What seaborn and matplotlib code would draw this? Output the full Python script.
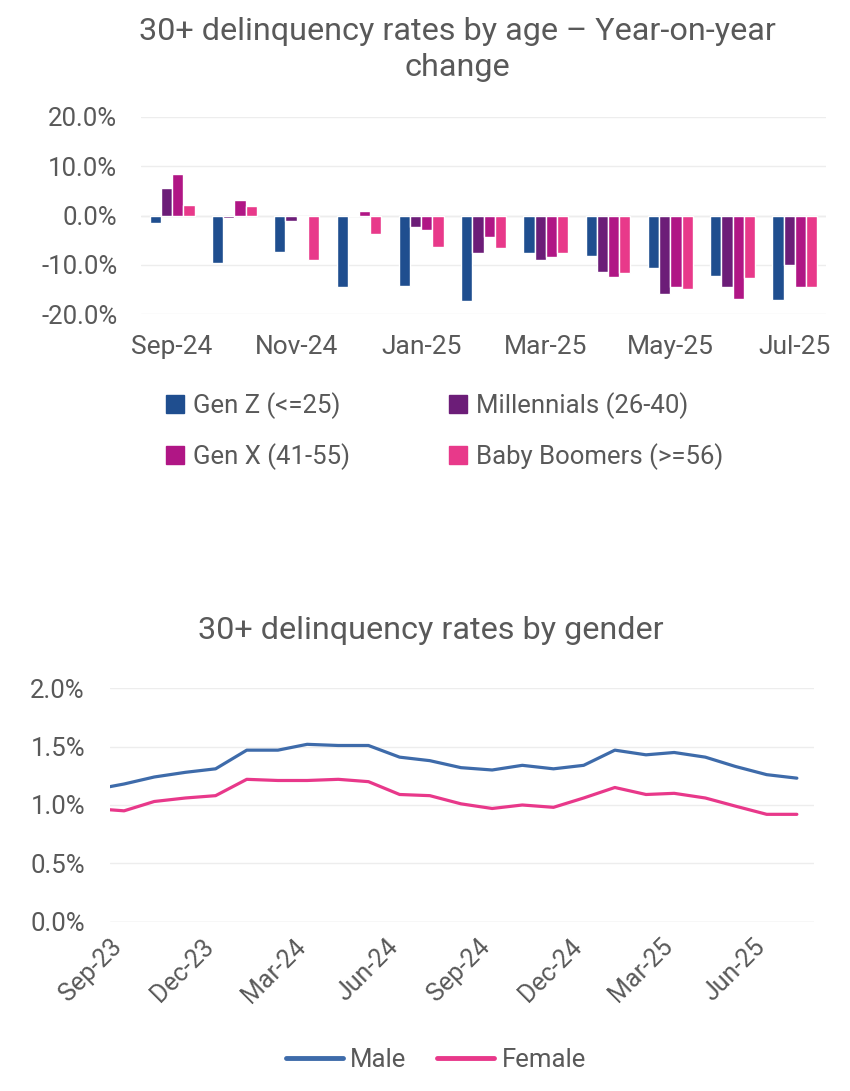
import pandas as pd
import numpy as np
import matplotlib
matplotlib.use("Agg")
import matplotlib.pyplot as plt
import matplotlib.dates as mdates
from matplotlib.ticker import PercentFormatter
from matplotlib.patches import Patch
from matplotlib.lines import Line2D
import seaborn as sns

# ---- data: year-on-year change by age group (%) ----
months_age = ["Sep-24", "Oct-24", "Nov-24", "Dec-24", "Jan-25", "Feb-25",
              "Mar-25", "Apr-25", "May-25", "Jun-25", "Jul-25"]
gen_z = [-1.6, -9.7, -7.3, -14.4, -14.2, -17.4, -7.5, -8.1, -10.7, -12.2, -17.2]
millennials = [5.6, -0.4, -1.2, 0.1, -2.4, -7.5, -9.1, -11.4, -15.8, -14.4, -10.1]
gen_x = [8.4, 3.2, -0.3, 1.0, -3.0, -4.4, -8.3, -12.4, -14.4, -16.8, -14.4]
boomers = [2.2, 2.0, -9.0, -3.7, -6.3, -6.5, -7.5, -11.6, -14.8, -12.6, -14.4]
age_groups = ["Gen Z (<=25)", "Millennials (26-40)", "Gen X (41-55)", "Baby Boomers (>=56)"]

# ---- data: 30+ delinquency rate by gender (%), mid-month points ----
dates_gender = pd.date_range("2023-08-01", periods=24, freq="MS") + pd.Timedelta(days=14)
male = [1.13, 1.18, 1.24, 1.28, 1.31, 1.47, 1.47, 1.52, 1.51, 1.51, 1.41, 1.38,
        1.32, 1.30, 1.34, 1.31, 1.34, 1.47, 1.43, 1.45, 1.41, 1.33, 1.26, 1.23]
female = [0.97, 0.95, 1.03, 1.06, 1.08, 1.22, 1.21, 1.21, 1.22, 1.20, 1.09, 1.08,
          1.01, 0.97, 1.00, 0.98, 1.06, 1.15, 1.09, 1.10, 1.06, 0.99, 0.92, 0.92]

age_colors = ["#1F4E8F", "#6C1D78", "#B01685", "#E8398A"]
gender_colors = ["#3E6BAA", "#E8388A"]
text_gray = "#595959"
grid_gray = "#EDEDED"

sns.set_theme(style="white")
plt.rcParams["font.family"] = ["Roboto", "DejaVu Sans"]
plt.rcParams["axes.unicode_minus"] = False
plt.rcParams["text.color"] = text_gray
plt.rcParams["xtick.color"] = text_gray
plt.rcParams["ytick.color"] = text_gray

age_df = pd.DataFrame({
    "month": months_age * 4,
    "group": sum([[g] * len(months_age) for g in age_groups], []),
    "value": gen_z + millennials + gen_x + boomers,
})
gender_df = pd.DataFrame({
    "date": list(dates_gender) * 2,
    "gender": ["Male"] * 24 + ["Female"] * 24,
    "value": male + female,
})

fig = plt.figure(figsize=(8.5, 10.91), dpi=100)

# ==========================================
# top: grouped bars
# ==========================================
ax1 = fig.add_axes([0.1659, 0.7119, 0.8059, 0.1811])
sns.barplot(data=age_df, x="month", y="value", hue="group", order=months_age,
            hue_order=age_groups, palette=age_colors, width=0.72,
            saturation=1, legend=False, ax=ax1)
ax1.set_ylim(-20, 20)
ax1.set_yticks([-20, -10, 0, 10, 20])
ax1.yaxis.set_major_formatter(PercentFormatter(xmax=100, decimals=1))
ax1.set_xlim(-0.5, len(months_age) - 0.5)
ax1.set_xticks(range(0, len(months_age), 2))
ax1.set_xticklabels(months_age[::2])
ax1.grid(axis="y", color=grid_gray, linewidth=1)
ax1.axhline(0, color="#E6E6E6", linewidth=1, zorder=0)
ax1.set_axisbelow(True)
for s in ax1.spines.values():
    s.set_visible(False)
ax1.tick_params(axis="x", length=0, labelsize=19, pad=15)
ax1.tick_params(axis="y", length=0, labelsize=18.5, pad=17)
ax1.set_xlabel("")
ax1.set_ylabel("")
fig.text(0.538, 0.955, "30+ delinquency rates by age \u2013 Year-on-year\nchange",
         ha="center", va="center", fontsize=23.3, linespacing=1.3)

handles = [Patch(color=c) for c in age_colors]
order = [0, 2, 1, 3]
fig.legend([handles[i] for i in order], [age_groups[i] for i in order],
           loc="center left", bbox_to_anchor=(0.168, 0.605), ncol=2,
           frameon=False, fontsize=18.5, handlelength=0.7, handleheight=0.7,
           handletextpad=0.35, columnspacing=3.85, labelspacing=0.95)

# ==========================================
# bottom: lines
# ==========================================
ax2 = fig.add_axes([0.1294, 0.1552, 0.8282, 0.2139])
sns.lineplot(data=gender_df, x="date", y="value", hue="gender",
             hue_order=["Male", "Female"], palette=gender_colors,
             linewidth=2.3, legend=False, ax=ax2)
ax2.set_ylim(0, 2.0)
ax2.set_yticks([0, 0.5, 1.0, 1.5, 2.0])
ax2.yaxis.set_major_formatter(PercentFormatter(xmax=100, decimals=1))
ax2.set_xlim(pd.Timestamp("2023-09-01"), pd.Timestamp("2025-08-01"))
ax2.xaxis.set_major_locator(mdates.MonthLocator(bymonth=[3, 6, 9, 12]))
ax2.xaxis.set_major_formatter(mdates.DateFormatter("%b-%y"))
ax2.grid(axis="y", color=grid_gray, linewidth=1)
ax2.set_axisbelow(True)
for s in ax2.spines.values():
    s.set_visible(False)
ax2.axhline(0, color="#E6E6E6", linewidth=1, zorder=0)
ax2.tick_params(axis="y", length=0, labelsize=18.5, pad=18)
ax2.tick_params(axis="x", length=5, color="#E6E6E6", labelsize=18, pad=4)
plt.setp(ax2.get_xticklabels(), rotation=45, ha="right", rotation_mode="anchor")
ax2.set_xlabel("")
ax2.set_ylabel("")
fig.text(0.507, 0.422, "30+ delinquency rates by gender",
         ha="center", va="center", fontsize=23.3)

line_handles = [Line2D([0], [0], color=c, linewidth=3.5) for c in gender_colors]
fig.legend(line_handles, ["Male", "Female"], loc="center",
           bbox_to_anchor=(0.513, 0.028), ncol=2, frameon=False, fontsize=18.5,
           handlelength=2.2, handletextpad=0.3, columnspacing=1.2)

fig.savefig("out.png", dpi=100)
